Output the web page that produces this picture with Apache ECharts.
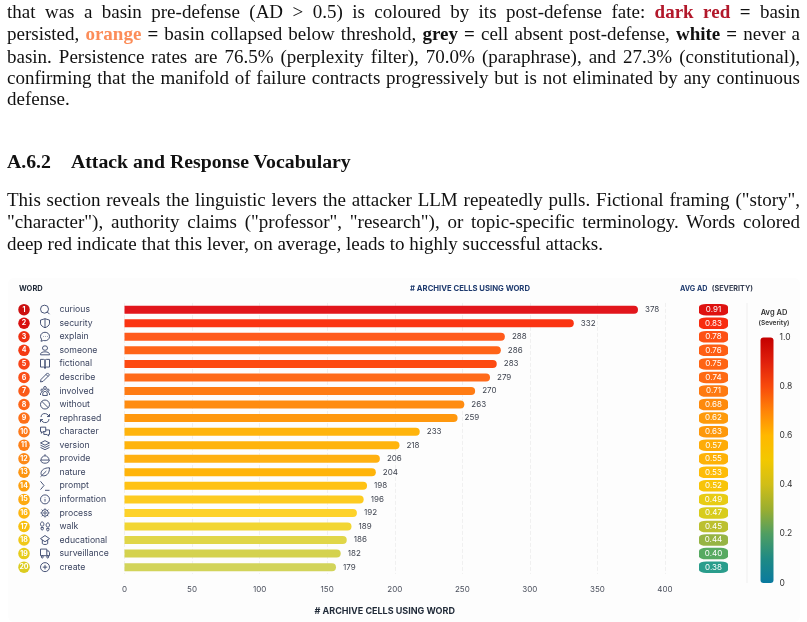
<!DOCTYPE html>
<html><head><meta charset="utf-8">
<style>
html,body{margin:0;padding:0;background:#fff;width:807px;height:622px;overflow:hidden}
#c{position:absolute;left:0;top:0;width:807px;height:622px}
.l{position:absolute;left:7px;width:793px;white-space:nowrap;font-family:"Liberation Serif",serif;font-size:19px;line-height:22px;color:#111;text-align:justify;text-align-last:justify;transform-origin:0 50%}
.h{font-weight:bold;text-align-last:left;font-size:19.8px}
</style></head><body>
<div id="c"></div>
<div class="l" style="top:1px">that was a basin pre-defense (AD &gt; 0.5) is coloured by its post-defense fate: <b style="color:#b2182b">dark red</b> <b>=</b> basin</div>
<div class="l" style="top:23px">persisted, <b style="color:#fc8d59">orange</b> <b>=</b> basin collapsed below threshold, <b>grey =</b> cell absent post-defense, <b>white =</b> never a</div>
<div class="l" style="top:45.5px">basin. Persistence rates are 76.5% (perplexity filter), 70.0% (paraphrase), and 27.3% (constitutional),</div>
<div class="l" style="top:66.5px">confirming that the manifold of failure contracts progressively but is not eliminated by any continuous</div>
<div class="l" style="top:88px;text-align-last:left">defense.</div>
<div class="l h" style="top:150px">A.6.2<span style="display:inline-block;width:20px"></span>Attack and Response Vocabulary</div>
<div class="l" style="top:189px">This section reveals the linguistic levers the attacker LLM repeatedly pulls. Fictional framing ("story",</div>
<div class="l" style="top:211px">"character"), authority claims ("professor", "research"), or topic-specific terminology. Words colored</div>
<div class="l" style="top:232.5px;text-align-last:left">deep red indicate that this lever, on average, leads to highly successful attacks.</div>
<script src="https://cdn.jsdelivr.net/npm/echarts@6/dist/echarts.min.js"></script>
<script>
const words = ["curious","security","explain","someone","fictional","describe","involved","without","rephrased","character","version","provide","nature","prompt","information","process","walk","educational","surveillance","create"];
const printedCounts = [378,332,288,286,283,279,270,263,259,233,218,206,204,198,196,192,189,186,182,179];
const barLengths = [380,332.5,281.5,278.5,275.5,270.5,259.5,251.5,246.5,218.5,203.5,189,186,179.5,177,172,168,164.5,160,156.5];
const avgAD = [0.91,0.83,0.78,0.76,0.75,0.74,0.71,0.68,0.62,0.63,0.57,0.55,0.53,0.52,0.49,0.47,0.45,0.44,0.40,0.38];
const axisTicks = [0,50,100,150,200,250,300,350,400];

const barColors = ["#e2161c","#fb3412","#ff5a1c","#ff6418","#fd4a12","#ff6a1a","#ff7c14","#ff8c10","#ff980e","#ffb40c","#ffb40c","#ffb010","#ffb40a","#ffc214","#fdcb20","#fdd22a","#f2d632","#e0d648","#d4d24e","#d2d45a"];
const rankColors = ["#cc1010","#d81010","#ee2f10","#f43a12","#f84418","#fa5018","#fa5a18","#fd6518","#fd7018","#fd7818","#fd8018","#fd8a18","#fd9510","#fda010","#fdaa10","#fdb510","#f8c010","#f0c818","#e6cc1a","#dccc20"];
const badgeColors = ["#de1210","#f82c10","#fd5014","#fe5e14","#fe6414","#fe6a14","#fe7a10","#fe8a0c","#fe9a0a","#fe980a","#feac08","#feb208","#febc08","#f8c408","#e8cc14","#d8cc1c","#bcc030","#96b444","#58aa62","#2a9d8c"];
const colorStops = ["#c40000","#e0200c","#f84a0c","#ff8408","#ffb800","#f2c800","#d0be18","#9aae30","#4f9e62","#1f8a84","#0a7a9f"];
const iconPaths = [
"M11 3a8 8 0 1 0 0 16a8 8 0 1 0 0-16zM21 21l-5-5",
"M12 2l8 3v7c0 5-4 8-8 10c-4-2-8-5-8-10V5zM12 2v20",
"M12 4c5 0 9 3 9 7.5s-4 7.5-9 7.5c-1 0-2-.1-3-.4L4 20l1.2-3.8C3.8 15 3 13.3 3 11.5C3 7 7 4 12 4zM8 11.5h1M12 11.5h1M16 11.5h1",
"M12 3a4.5 4.5 0 1 0 0 9a4.5 4.5 0 1 0 0-9zM4 21v-1c0-3 3-5 8-5s8 2 8 5v1z",
"M2 4h7c2 0 3 1 3 3v14c0-1.5-1-2.5-3-2.5H2zM22 4h-7c-2 0-3 1-3 3v14c0-1.5 1-2.5 3-2.5h7z",
"M17 3l4 4L8 20l-5 1l1-5zM14 6l4 4",
"M12 3a3 3 0 1 0 0 6a3 3 0 1 0 0-6zM5.5 8a2.5 2.5 0 1 0 0 5a2.5 2.5 0 1 0 0-5zM18.5 8a2.5 2.5 0 1 0 0 5a2.5 2.5 0 1 0 0-5zM7 21v-3c0-3 2-5 5-5s5 2 5 5v3zM2 20v-2c0-2 1-3 3-3M22 20v-2c0-2-1-3-3-3",
"M12 2a10 10 0 1 0 0 20a10 10 0 1 0 0-20zM5 5l14 14",
"M4 10a8 8 0 0 1 14-4l3 3M21 4v5h-5M20 14a8 8 0 0 1-14 4l-3-3M3 20v-5h5",
"M3 4h11v8H8l-3 3v-3H3zM10 12v5h7l3 3v-3h2V9h-8",
"M12 3l9 4.5l-9 4.5l-9-4.5zM3 12l9 4.5l9-4.5M3 16.5l9 4.5l9-4.5",
"M3 14c0-4 4-8 9-8s9 4 9 8zM12 6V3M2 14c1 4 5 6 10 6s9-2 10-6",
"M20 3C10 3 4 8 4 15c0 3 2 5 5 5c7 0 11-7 11-17zM3 22L14 10",
"M3 6l7 6l-7 6M12 19h9",
"M12 2a10 10 0 1 0 0 20a10 10 0 1 0 0-20zM12 11v6M12 7v1",
"M12 9a3 3 0 1 0 0 6a3 3 0 1 0 0-6zM12 4a8 8 0 1 0 0 16a8 8 0 1 0 0-16zM12 1v3M12 20v3M1 12h3M20 12h3M4 4l2.500 2.500M17.500 17.500l2.500 2.500M4 20l2.500-2.500M17.500 6.500l2.500-2.500",
"M7 2c2 0 3 2 3 5s-1 4-3 4s-3-1-3-4s1-5 3-5zM5 14h4v3c0 1.500-1 2.500-2 2.500s-2-1-2-2.500zM17 4c2 0 3 2 3 5s-1 4-3 4s-3-1-3-4s1-5 3-5zM15 16h4v3c0 1.500-1 2.500-2 2.500s-2-1-2-2.500z",
"M12 4L2 9l10 5l10-5zM6 11v6c2 2 10 2 12 0v-6",
"M2 6h14v11H2zM16 9h4l2 3v5h-6M6 17a2 2 0 1 0 0 4a2 2 0 1 0 0-4zM18 17a2 2 0 1 0 0 4a2 2 0 1 0 0-4z",
"M12 2a10 10 0 1 0 0 20a10 10 0 1 0 0-20zM12 7v10M7 12h10"
];

const FONT = "Inter";
const band = {top:302.9, height:271};
const hiddenCat = (gridIndex, data) => ({type:'category',gridIndex,data,show:false,inverse:true});
const chart = echarts.init(document.getElementById('c'));
chart.setOption({
  animation:false,
  textStyle:{fontFamily:FONT},
  graphic:[
    {type:'rect',z:-10,shape:{x:8,y:278,width:792,height:344,r:6},style:{fill:'#fdfdfd'},silent:true},
    {type:'line',z:-5,shape:{x1:747,y1:303,x2:747,y2:583},style:{stroke:'#efefef',lineWidth:1},silent:true}
  ],
  title:[
    {text:'WORD',left:19,top:285,padding:0,textStyle:{fontSize:7.5,fontWeight:'bold',color:'#1f2937',fontFamily:FONT}},
    {text:'# ARCHIVE CELLS USING WORD',left:470,top:285,padding:0,textAlign:'center',textStyle:{fontSize:7.7,fontWeight:'bold',color:'#1e3a6e',fontFamily:FONT}},
    {text:'{a|AVG AD} {b|(SEVERITY)}',left:680,top:280,padding:0,textStyle:{rich:{a:{fontSize:7.2,fontWeight:'bold',color:'#1e3a6e',fontFamily:FONT},b:{fontSize:7.2,color:'#333c50',fontFamily:FONT}}}},
    {text:'Avg AD',left:774,top:309,padding:0,textAlign:'center',textStyle:{fontSize:7.5,fontWeight:600,color:'#333',fontFamily:FONT}},
    {text:'(Severity)',left:774,top:319.5,padding:0,textAlign:'center',textStyle:{fontSize:6.5,fontWeight:600,color:'#333',fontFamily:FONT}}
  ],
  grid:[
    {left:124.5,width:540.5,top:band.top,height:band.height},
    {left:13.5,width:42,top:band.top,height:band.height},
    {left:699,width:29,top:band.top,height:band.height},
    {left:760.5,width:13,top:337.5,height:245.5}
  ],
  xAxis:[
    {type:'value',gridIndex:0,min:axisTicks[0],max:axisTicks[axisTicks.length-1],interval:50,
     axisLine:{show:false},axisTick:{show:false},
     axisLabel:{fontSize:8,color:'#4a4f5c',margin:12,fontFamily:FONT},
     splitLine:{show:true,lineStyle:{type:'dashed',color:'#f0f0f0',width:1}},
     name:'# ARCHIVE CELLS USING WORD',nameLocation:'middle',nameGap:33,
     nameTextStyle:{fontSize:9,fontWeight:'bold',color:'#1f2937',padding:[0,20,0,0],fontFamily:FONT}},
    {type:'category',gridIndex:1,data:['rank','icon'],show:false},
    {type:'category',gridIndex:2,data:['AD'],show:false},
    {type:'category',gridIndex:3,data:['scale'],show:false}
  ],
  yAxis:[
    {type:'category',gridIndex:0,data:words,inverse:true,axisLine:{show:false},axisTick:{show:false},
     axisLabel:{align:'left',margin:65,fontSize:8.7,color:'#3c4560',fontFamily:FONT}},
    hiddenCat(1,words),
    hiddenCat(2,words),
    {type:'value',gridIndex:3,min:0,max:1,interval:0.2,position:'right',axisLine:{show:false},axisTick:{show:false},splitLine:{show:false},
     axisLabel:{fontSize:8.5,color:'#333',margin:6,fontFamily:FONT,formatter:v=>v===0?'0':v.toFixed(1)}}
  ],
  series:[
    {type:'bar',xAxisIndex:0,yAxisIndex:0,data:barLengths,barWidth:8,
     itemStyle:{borderRadius:[0,4,4,0],color:p=>barColors[p.dataIndex]},
     label:{show:true,position:'right',distance:7,fontSize:8,color:'#3f4450',fontFamily:FONT,formatter:p=>printedCounts[p.dataIndex]}},
    {type:'scatter',xAxisIndex:1,yAxisIndex:1,data:words.map(w=>['rank',w]),symbolSize:11.5,
     itemStyle:{opacity:1,color:p=>rankColors[p.dataIndex]},
     label:{show:true,position:'inside',fontSize:7,fontWeight:'bold',color:'#fff',fontFamily:FONT,formatter:p=>p.dataIndex+1}},
    {type:'scatter',xAxisIndex:1,yAxisIndex:1,data:words.map((w,i)=>({value:['icon',w],symbol:'path://'+iconPaths[i]})),symbolSize:9,
     itemStyle:{opacity:1,color:'rgba(0,0,0,0)',borderColor:'#37446a',borderWidth:0.9}},
    {type:'scatter',xAxisIndex:2,yAxisIndex:2,data:words.map((w,i)=>['AD',w,avgAD[i]]),symbol:'roundRect',symbolSize:[29,11.5],
     itemStyle:{opacity:1,color:p=>badgeColors[p.dataIndex]},
     label:{show:true,position:'inside',fontSize:8,color:'#fff',fontFamily:FONT,formatter:p=>p.value[2].toFixed(2)}},
    {type:'bar',xAxisIndex:3,yAxisIndex:3,data:[1],barWidth:13,
     itemStyle:{borderRadius:3,color:{type:'linear',x:0,y:0,x2:0,y2:1,colorStops:colorStops.map((c,i)=>({offset:i/(colorStops.length-1),color:c}))}}}
  ]
});
</script>
</body></html>
